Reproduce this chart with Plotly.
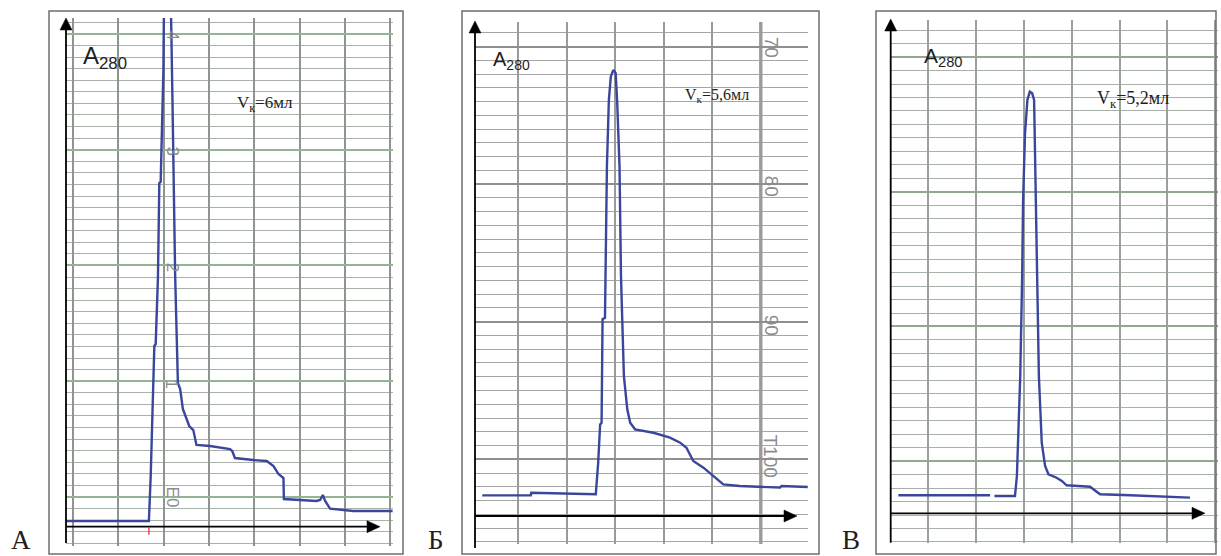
import plotly.graph_objects as go

W, H = 1221, 556

# ---------------- data (x: major chart divisions, y: minor chart divisions) ----------------
# Panel А
a_x = [0.00, 1.83, 1.87, 1.91, 1.95, 1.98, 2.03, 2.06, 2.09, 2.15, 2.16, 2.24, 2.32, 2.35, 2.37,
       2.41, 2.47, 2.52, 2.58, 2.72, 2.81, 2.85, 2.88, 3.18, 3.62, 3.67, 3.73, 4.13, 4.43, 4.58,
       4.69, 4.80, 4.81, 5.53, 5.61, 5.67, 5.72, 5.83, 6.34, 7.21]
a_y = [0.49, 0.49, 4.38, 10.17, 15.61, 15.78, 21.57, 29.69, 29.78, 39.46, 43.95, 50.0, 43.95, 36.87, 32.55,
       21.65, 12.41, 11.90, 10.17, 8.70, 8.35, 7.58, 7.06, 6.97, 6.71, 6.54, 5.93, 5.76, 5.68, 5.24,
       4.55, 4.21, 2.39, 2.22, 2.31, 2.74, 2.22, 1.56, 1.36, 1.36]
a_mark_x = [1.83, 1.83]
a_mark_y = [-0.1, -0.7]
a_paper_labels = ["4", "3", "2", "1", "E0"]
a_paper_label_y = [42.5, 32.5, 22.45, 12.4, 2.6]

# Panel Б
b_x = [0.15, 1.15, 1.16, 2.49, 2.54, 2.58, 2.61, 2.63, 2.68, 2.69, 2.72, 2.76, 2.80, 2.85, 2.90,
       2.93, 2.98, 3.01, 3.07, 3.14, 3.20, 3.30, 3.68, 4.02, 4.23, 4.36, 4.50, 4.71, 4.91, 5.12,
       5.46, 6.29, 6.32, 6.86]
b_y = [1.50, 1.50, 1.69, 1.58, 3.87, 6.66, 6.78, 14.30, 14.41, 17.44, 25.39, 30.23, 31.93, 32.41, 32.19,
       30.23, 25.39, 17.39, 10.17, 7.75, 6.78, 6.30, 6.05, 5.69, 5.33, 4.96, 4.00, 3.51, 2.91, 2.30,
       2.18, 2.06, 2.18, 2.11]
b_paper_labels = ["70", "80", "90", "T100"]
b_paper_label_y = [34.1, 24.0, 13.9, 4.4]

# Panel В
c_x = [0.16, 2.08, None, 2.17, 2.60, 2.64, 2.71, 2.75, 2.77, 2.81, 2.86, 2.91, 2.96, 3.00, 3.04,
       3.06, 3.10, 3.16, 3.23, 3.30, 3.47, 3.58, 3.68, 4.17, 4.24, 4.38, 5.01, 5.70, 6.26]
c_y = [1.34, 1.34, None, 1.28, 1.28, 2.77, 10.19, 17.56, 23.26, 28.23, 30.68, 31.30, 31.18, 30.68, 23.26,
       17.58, 10.19, 5.24, 3.51, 2.90, 2.64, 2.40, 2.08, 1.97, 1.78, 1.41, 1.34, 1.23, 1.16]

panel_letters = ["А", "Б", "В"]
volume_labels = ["V<sub>к</sub>=6мл", "V<sub>к</sub>=5,6мл", "V<sub>к</sub>=5,2мл"]
absorb_label = "A<sub>280</sub>"

# ---------------- layout geometry (pixels) ----------------
panels = [
    dict(left=66, right=393, top=18, bottom=546, ox=66, oy=526.7, sx=45.3, sy=11.575,
         xt0=0.155, yt0=2.57, frame=(49, 11, 403, 554), ybot=543, xtip=380, ytip=18,
         vgrid="#8e958e", hmin="#a9b1a9", hmaj="#93b493", vw=1.5, majw=1.6,
         abs_pos=(81, 57, 24), vol_pos=(235, 104, 17), letter=(21, 540),
         xs=[a_x], ys=[a_y], paper_x=172, paper_labels=a_paper_labels, paper_y=a_paper_label_y, psize=17),
    dict(left=475, right=808, top=22, bottom=544, ox=475, oy=516, sx=48.5, sy=13.76,
         xt0=0.893, yt0=4.12, frame=(462, 11, 819, 554), ybot=548, xtip=797, ytip=21,
         vgrid="#9a9a9a", hmin="#a5a5a5", hmaj="#8f8f8f", vw=2, majw=2.2,
         abs_pos=(491, 61, 20), vol_pos=(683, 96, 16), letter=(436, 540),
         xs=[b_x], ys=[b_y], paper_x=771, paper_labels=b_paper_labels, paper_y=b_paper_label_y, psize=19),
    dict(left=890.7, right=1218, top=20, bottom=543, ox=890.7, oy=513.3, sx=47.8, sy=13.47,
         xt0=0.787, yt0=3.87, frame=(876, 11, 1216, 554), ybot=542.7, xtip=1205, ytip=19,
         vgrid="#9aa09a", hmin="#a9b0a9", hmaj="#93a593", vw=1.8, majw=2,
         abs_pos=(922, 57, 21), vol_pos=(1095, 99, 18), letter=(851, 540),
         xs=[c_x], ys=[c_y], paper_x=None, paper_labels=[], paper_y=[], psize=14),
]

fig = go.Figure()
shapes = []
annotations = []
line_color = "#3a469c"


def px2paper(x, y):
    return x / W, 1 - y / H


for i, p in enumerate(panels):
    n = "" if i == 0 else str(i + 1)
    xa, ya = "xaxis" + n, "yaxis" + n
    xr, yr = "x" + n, "y" + n
    xrange = [(p["left"] - p["ox"]) / p["sx"], (p["right"] - p["ox"]) / p["sx"]]
    yrange = [(p["oy"] - p["bottom"]) / p["sy"], (p["oy"] - p["top"]) / p["sy"]]
    fig.update_layout(**{
        xa: dict(domain=[p["left"] / W, p["right"] / W], range=xrange, anchor=yr,
                 showgrid=True, tick0=p["xt0"], dtick=1, gridcolor=p["vgrid"], gridwidth=p["vw"],
                 showticklabels=False, ticks="", zeroline=False, showline=False, fixedrange=True),
        ya: dict(domain=[1 - p["bottom"] / H, 1 - p["top"] / H], range=yrange, anchor=xr,
                 showgrid=True, tick0=p["yt0"], dtick=10, gridcolor=p["hmaj"], gridwidth=p["majw"],
                 minor=dict(tick0=p["yt0"], dtick=1, showgrid=True, gridcolor=p["hmin"], gridwidth=1, ticks=""),
                 showticklabels=False, ticks="", zeroline=False, showline=False, fixedrange=True),
    })
    for xs, ys in zip(p["xs"], p["ys"]):
        fig.add_trace(go.Scatter(x=xs, y=ys, mode="lines", xaxis=xr, yaxis=yr,
                                 line=dict(color=line_color, width=2.4), showlegend=False,
                                 hoverinfo="skip"))
    if i == 0:
        fig.add_trace(go.Scatter(x=a_mark_x, y=a_mark_y, mode="lines", xaxis=xr, yaxis=yr,
                                 line=dict(color="#e8455a", width=1.5), showlegend=False,
                                 hoverinfo="skip"))
    if i == 1:
        shapes.append(dict(type="line", xref=xr, yref=yr, x0=5.893, x1=5.893,
                           y0=yrange[0], y1=yrange[1], line=dict(color="#8a8a8a", width=3.2), layer="below"))
    # frame
    fx0, fy0, fx1, fy1 = p["frame"]
    shapes.append(dict(type="rect", xref="paper", yref="paper", x0=fx0 / W, x1=fx1 / W,
                       y0=1 - fy1 / H, y1=1 - fy0 / H, line=dict(color="#6e6e6e", width=1.5)))
    # axes (paper-referenced lines) with filled triangle arrowheads
    ox, oy = p["ox"], p["oy"]
    head_l, head_w = 12, 6
    x0, y0 = px2paper(ox, p["ybot"])
    x1, y1 = px2paper(ox, p["ytip"] + head_l - 1)
    shapes.append(dict(type="line", xref="paper", yref="paper", x0=x0, y0=y0, x1=x1, y1=y1,
                       line=dict(color="black", width=1.8)))
    x0, y0 = px2paper(ox, oy)
    x1, y1 = px2paper(p["xtip"] - head_l + 1, oy)
    shapes.append(dict(type="line", xref="paper", yref="paper", x0=x0, y0=y0, x1=x1, y1=y1,
                       line=dict(color="black", width=1.8)))
    t = px2paper(ox, p["ytip"])
    bl = px2paper(ox - head_w, p["ytip"] + head_l)
    br = px2paper(ox + head_w, p["ytip"] + head_l)
    shapes.append(dict(type="path", xref="paper", yref="paper",
                       path=f"M{t[0]},{t[1]} L{bl[0]},{bl[1]} L{br[0]},{br[1]} Z",
                       fillcolor="black", line=dict(color="black", width=0.5)))
    t = px2paper(p["xtip"], oy)
    bl = px2paper(p["xtip"] - head_l - 1, oy - head_w)
    br = px2paper(p["xtip"] - head_l - 1, oy + head_w)
    shapes.append(dict(type="path", xref="paper", yref="paper",
                       path=f"M{t[0]},{t[1]} L{bl[0]},{bl[1]} L{br[0]},{br[1]} Z",
                       fillcolor="black", line=dict(color="black", width=0.5)))
    # A280 label
    axp, ayp, asz = p["abs_pos"]
    annotations.append(dict(x=(axp - ox) / p["sx"], y=(oy - ayp) / p["sy"], xref=xr, yref=yr,
                            text=absorb_label, showarrow=False, xanchor="left", yanchor="middle",
                            font=dict(family="Liberation Sans, Arial, sans-serif", size=asz, color="#1e1e1e")))
    # volume label
    vxp, vyp, vsz = p["vol_pos"]
    annotations.append(dict(x=(vxp - ox) / p["sx"], y=(oy - vyp) / p["sy"], xref=xr, yref=yr,
                            text=volume_labels[i], showarrow=False, xanchor="left", yanchor="middle",
                            font=dict(family="Liberation Serif, Times New Roman, serif", size=vsz, color="#1e1e1e")))
    # chart-paper scale labels
    for lab, ly in zip(p["paper_labels"], p["paper_y"]):
        annotations.append(dict(x=(p["paper_x"] - ox) / p["sx"], y=ly, xref=xr, yref=yr,
                                text=lab, showarrow=False, textangle=90, xanchor="center", yanchor="middle",
                                font=dict(family="Liberation Sans, Arial, sans-serif", size=p["psize"], color="#8c8c8c")))
    # panel letter
    lx, ly = p["letter"]
    annotations.append(dict(x=lx / W, y=1 - ly / H, xref="paper", yref="paper", text=panel_letters[i],
                            showarrow=False, xanchor="center", yanchor="middle",
                            font=dict(family="Liberation Serif, Times New Roman, serif", size=27, color="#1e1e1e")))

fig.update_layout(width=W, height=H, margin=dict(l=0, r=0, t=0, b=0),
                  paper_bgcolor="white", plot_bgcolor="white",
                  shapes=shapes, annotations=annotations, showlegend=False)

fig.write_html("out.html", config={"displayModeBar": False},
               post_script="document.body.style.margin='0';document.body.style.padding='0';")
